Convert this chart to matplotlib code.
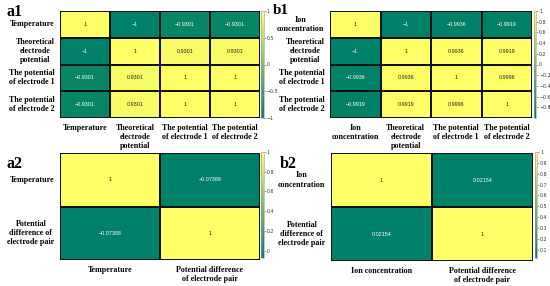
import matplotlib
matplotlib.use('Agg')
import matplotlib.pyplot as plt
import numpy as np

# panel a1
a1_labels_y = ['Temperature', 'Theoretical\nelectrode\npotential',
               'The potential\nof electrode 1', 'The potential\nof electrode 2']
a1_labels_x = ['Temperature', 'Theoretical\nelectrode\npotential',
               'The potential\nof electrode 1', 'The potential\nof electrode 2']
a1_values = [[1, -1, -0.9301, -0.9301],
             [-1, 1, 0.9301, 0.9301],
             [-0.9301, 0.9301, 1, 1],
             [-0.9301, 0.9301, 1, 1]]
a1_cbar_ticks = [-1, -0.5, 0, 0.5, 1]

# panel b1
b1_labels_y = ['Ion\nconcentration', 'Theoretical\nelectrode\npotential',
               'The potential\nof electrode 1', 'The potential\nof electrode 2']
b1_labels_x = ['Ion\nconcentration', 'Theoretical\nelectrode\npotential',
               'The potential\nof electrode 1', 'The potential\nof electrode 2']
b1_values = [[1, -1, -0.9936, -0.9919],
             [-1, 1, 0.9936, 0.9919],
             [-0.9936, 0.9936, 1, 0.9996],
             [-0.9919, 0.9919, 0.9996, 1]]
b1_cbar_ticks = [-0.8, -0.6, -0.4, -0.2, 0, 0.2, 0.4, 0.6, 0.8, 1]

# panel a2
a2_labels_y = ['Temperature', 'Potential\ndifference of\nelectrode pair']
a2_labels_x = ['Temperature', 'Potential difference\nof electrode pair']
a2_values = [[1, -0.07388],
             [-0.07388, 1]]
a2_cbar_ticks = [0, 0.2, 0.4, 0.6, 0.8, 1]

# panel b2
b2_labels_y = ['Ion\nconcentration', 'Potential\ndifference of\nelectrode pair']
b2_labels_x = ['Ion concentration', 'Potential difference\nof electrode pair']
b2_values = [[1, 0.02154],
             [0.02154, 1]]
b2_cbar_ticks = [0.1, 0.2, 0.3, 0.4, 0.5, 0.6, 0.7, 0.8, 0.9, 1]

W, H = 550, 286
fig = plt.figure(figsize=(5.5, 2.86), dpi=100)

label_font = dict(family='Liberation Serif', fontweight='bold', fontsize=5.8)


def px(x0, y0, x1, y1):
    # pixel box (top-left origin) -> figure fraction rect
    return [x0 / W, 1 - y1 / H, (x1 - x0) / W, (y1 - y0) / H]


def heatmap(box, cbox, values, xlabels, ylabels, ticks, tag, tagpos):
    vals = np.array(values, dtype=float)
    n = vals.shape[0]
    vmin, vmax = vals.min(), vals.max()
    ax = fig.add_axes(px(*box))
    mesh = ax.pcolormesh(vals, cmap='summer', vmin=vmin, vmax=vmax,
                         edgecolors='#111111', linewidth=1.4)
    ax.set_xlim(0, n)
    ax.set_ylim(n, 0)
    for i in range(n):
        for j in range(n):
            v = vals[i, j]
            txt = '{:.4g}'.format(v).replace('-', '\u2212')
            col = 'white' if (v - vmin) / (vmax - vmin) < 0.5 else '#222222'
            ax.text(j + 0.5, i + 0.5, txt, ha='center', va='center',
                    fontsize=3.9, color=col, family='Liberation Sans')
    ax.set_xticks(np.arange(n) + 0.5)
    ax.set_yticks(np.arange(n) + 0.5)
    ax.set_xticklabels(xlabels, va='top', ha='center',
                       multialignment='center', **label_font)
    ax.set_yticklabels(ylabels, ha='right', va='center',
                       multialignment='center', **label_font)
    ax.tick_params(length=0, pad=4)
    for s in ax.spines.values():
        s.set_visible(False)

    cax = fig.add_axes(px(*cbox))
    cb = fig.colorbar(mesh, cax=cax)
    cb.set_ticks(ticks)
    cb.set_ticklabels([('{:g}'.format(t)).replace('-', '\u2212') for t in ticks])
    cb.outline.set_linewidth(0.4)
    cb.outline.set_edgecolor('#999999')
    cax.tick_params(labelsize=3.4, length=1.2, width=0.4, pad=1,
                    colors='#555555', labelcolor='#333333')

    fig.text(tagpos[0] / W, 1 - tagpos[1] / H, tag, family='Liberation Serif',
             fontweight='bold', fontsize=tagpos[2], va='baseline', ha='left')


heatmap((60, 11, 260, 118), (261, 11, 263.5, 118), a1_values,
        a1_labels_x, a1_labels_y, a1_cbar_ticks, 'a1', (6, 16, 11.5))
heatmap((330, 11, 532, 118), (533.5, 11, 536, 118), b1_values,
        b1_labels_x, b1_labels_y, b1_cbar_ticks, 'b1', (273, 13.5, 11))
heatmap((60, 153, 260, 260), (261, 152, 263.5, 258), a2_values,
        a2_labels_x, a2_labels_y, a2_cbar_ticks, 'a2', (6, 168, 11.5))
heatmap((331, 153, 533, 261), (534.5, 152, 537, 258), b2_values,
        b2_labels_x, b2_labels_y, b2_cbar_ticks, 'b2', (280, 168, 11.5))

fig.savefig('out.png', dpi=100)
